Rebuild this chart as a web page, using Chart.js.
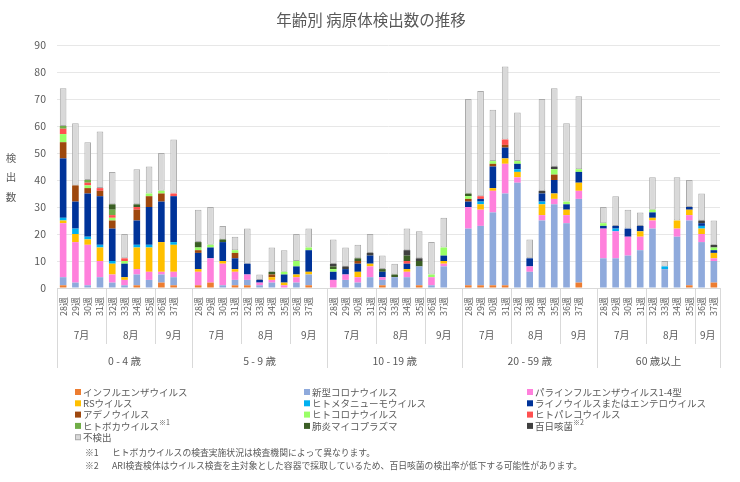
<!DOCTYPE html>
<html lang="ja">
<head>
<meta charset="utf-8">
<title>年齢別 病原体検出数の推移</title>
<script src="https://cdn.jsdelivr.net/npm/chart.js@4.4.1/dist/chart.umd.min.js"></script>
<style>
  html, body { margin: 0; padding: 0; background: #fff; }
  #wrap { position: relative; width: 740px; height: 482px; }
</style>
</head>
<body>
<div id="wrap"><canvas id="pcChart" width="740" height="482"></canvas></div>
<script>
// ─── 年齢別 病原体検出数の推移 — stacked bars, 3-level category axis ─────────

const FONT = '"Noto Sans CJK JP", "Noto Sans", sans-serif';
const INK  = '#595959';

// axis categories
const WEEKS  = ['28週','29週','30週','31週','32週','33週','34週','35週','36週','37週'];
const MONTHS = ['7月','8月','9月'];
const MONTH_SPAN = [4, 4, 2];            // weeks per month
const GROUPS = ['0 - 4 歳','5 - 9 歳','10 - 19 歳','20 - 59 歳','60 歳以上'];
const Y_TICKS = [0,10,20,30,40,50,60,70,80,90];

// series values, 10 weeks per age group:  0-4 | 5-9 | 10-19 | 20-59 | 60+
const FLU     = [1,0,0,0,0,0,1,0,2,1,  1,2,0,1,1,0,0,0,0,1,  0,0,0,0,1,0,0,1,0,0,  1,1,1,1,0,0,0,0,0,2,  0,0,0,0,0,0,0,1,0,2];
const COVID   = [3,2,1,4,2,1,4,3,3,3,  0,0,1,2,2,1,2,0,2,4,  0,3,2,4,2,4,4,7,1,8,  21,22,27,34,39,6,25,31,24,31,  11,11,12,14,22,7,19,24,17,8];
const PARA    = [20,15,15,6,3,2,2,3,1,2,  5,9,8,3,2,1,1,1,2,0,  3,2,2,4,1,0,2,0,3,1,  8,6,8,11,2,2,2,2,3,3,  11,10,7,5,3,0,3,2,3,1];
const RSV     = [1,3,2,5,4,1,8,9,11,10,  1,0,1,1,0,0,1,1,1,1,  0,0,2,1,0,0,1,0,0,1,  0,2,1,2,2,0,4,2,2,3,  0,0,0,2,1,0,3,2,2,2];
const HMPV    = [1,2,1,1,1,0,1,1,0,1,  0,0,0,0,0,0,0,0,0,0,  0,0,0,0,0,0,0,0,0,0,  0,1,0,0,1,0,1,0,0,0,  0,1,0,0,0,1,0,0,1,0];
const RHINO   = [22,10,16,18,12,5,9,14,15,17,  6,4,7,4,4,1,0,3,3,8,  3,2,3,3,2,0,2,0,0,2,  2,1,8,4,2,3,3,5,2,4,  1,1,3,2,2,0,0,1,1,1];
const ADENO   = [6,6,2,2,3,0,4,4,3,0,  1,0,0,2,0,0,1,0,0,0,  0,0,1,0,0,0,0,0,0,0,  1,0,1,1,0,0,0,2,0,0,  0,0,0,0,0,0,0,0,0,0];
const HCOV    = [3,0,1,0,1,1,0,1,1,0,  1,1,0,1,0,0,0,1,2,1,  1,0,0,0,0,0,0,0,1,3,  1,0,1,0,1,0,0,2,1,1,  1,0,0,0,1,0,0,0,0,1];
const PARECHO = [2,0,1,1,1,1,1,0,0,1,  0,0,0,0,0,0,0,0,0,0,  0,0,0,0,0,0,1,0,0,0,  0,1,0,2,0,0,0,0,0,0,  0,0,0,0,0,0,0,0,0,0];
const BOCA    = [1,0,1,0,2,0,0,0,0,0,  0,0,0,0,0,0,0,0,0,0,  0,0,0,0,0,0,0,0,0,0,  0,0,0,0,0,0,0,0,0,0,  0,0,0,0,0,0,0,0,0,0];
const MYCO    = [0,0,0,0,2,0,1,0,0,0,  2,0,1,0,0,0,1,0,0,0,  1,0,1,0,1,1,2,2,0,0,  1,0,0,0,0,0,0,0,0,0,  0,0,0,0,0,0,0,0,0,0];
const PERT    = [0,0,0,0,0,0,0,0,0,0,  0,0,0,0,0,0,0,0,0,0,  1,1,0,1,0,0,2,1,0,0,  0,0,0,0,0,0,1,1,0,0,  0,0,0,0,0,0,0,0,1,1];
const NONE    = [14,23,14,21,12,9,13,10,14,20,  12,14,5,5,13,2,9,8,10,7,  9,7,5,7,5,4,8,10,12,11,  35,39,19,27,18,7,34,29,29,27,  6,11,7,5,12,2,16,10,10,9];

const SERIES = [
  { label: 'インフルエンザウイルス',           data: FLU,     color: '#ED7D31' },
  { label: '新型コロナウイルス',               data: COVID,   color: '#8FAADC' },
  { label: 'パラインフルエンザウイルス1-4型',  data: PARA,    color: '#FF80DC' },
  { label: 'RSウイルス',                       data: RSV,     color: '#FFC000' },
  { label: 'ヒトメタニューモウイルス',         data: HMPV,    color: '#00B0F0' },
  { label: 'ライノウイルスまたはエンテロウイルス', data: RHINO, color: '#003399' },
  { label: 'アデノウイルス',                   data: ADENO,   color: '#9E480E' },
  { label: 'ヒトコロナウイルス',               data: HCOV,    color: '#99FF66' },
  { label: 'ヒトパレコウイルス',               data: PARECHO, color: '#FF5050' },
  { label: 'ヒトボカウイルス', note: '※1',    data: BOCA,    color: '#70AD47' },
  { label: '肺炎マイコプラズマ',               data: MYCO,    color: '#3B5E25' },
  { label: '百日咳菌', note: '※2',            data: PERT,    color: '#404040' },
  { label: '不検出',                           data: NONE,    color: '#D9D9D9' },
];

const NOTES = [
  ['※1', 'ヒトボカウイルスの検査実施状況は検査機関によって異なります。'],
  ['※2', 'ARI検査検体はウイルス検査を主対象とした容器で採取しているため、百日咳菌の検出率が低下する可能性があります。'],
];

// one blank slot after every age group except the last
const SLOTS = GROUPS.flatMap((g, gi) => gi < GROUPS.length - 1 ? [...WEEKS, ''] : WEEKS);
const _slot = arr => GROUPS.flatMap((g, gi) => {
  const part = arr.slice(gi * WEEKS.length, (gi + 1) * WEEKS.length);
  return gi < GROUPS.length - 1 ? [...part, null] : part;
});

// ─── decorations: title, y title, multi-level x axis, legend, notes ─────────
const decor = {
  id: 'decor',
  afterDraw(chart) {
    const { ctx, chartArea: a, scales: { x } } = chart;
    const step = (a.right - a.left) / SLOTS.length;
    const edge = i => x.getPixelForValue(i) - step / 2;
    ctx.save();
    ctx.fillStyle = INK;

    // title
    ctx.font = `15.5px ${FONT}`;
    ctx.textAlign = 'center'; ctx.textBaseline = 'middle';
    ctx.fillText('年齢別 病原体検出数の推移', 371, 20);

    // y-axis title, stacked characters
    ctx.font = `10.5px ${FONT}`;
    ['検', '出', '数'].forEach((c, i) => ctx.fillText(c, 11, 158 + i * 19.5));

    // base line
    ctx.strokeStyle = '#D9D9D9'; ctx.lineWidth = 1;
    ctx.beginPath(); ctx.moveTo(a.left, a.bottom + 0.5); ctx.lineTo(a.right, a.bottom + 0.5); ctx.stroke();

    const vline = (px, y2) => {
      const xx = Math.round(px) + 0.5;
      ctx.beginPath(); ctx.moveTo(xx, a.bottom); ctx.lineTo(xx, y2); ctx.stroke();
    };

    // week labels (rotated)
    ctx.font = `9px ${FONT}`;
    SLOTS.forEach((lab, i) => {
      if (!lab) return;
      ctx.save();
      ctx.translate(x.getPixelForValue(i), a.bottom + 9);
      ctx.rotate(-Math.PI / 2);
      ctx.textAlign = 'right'; ctx.textBaseline = 'middle';
      ctx.fillText(lab, 0, 0);
      ctx.restore();
    });

    // months + groups
    let idx = 0;
    GROUPS.forEach((g, gi) => {
      const gStart = idx;
      MONTHS.forEach((m, mi) => {
        let span = MONTH_SPAN[mi];
        if (mi === MONTHS.length - 1 && gi < GROUPS.length - 1) span += 1;   // blank slot
        const l = edge(idx), r = edge(idx) + span * step;
        ctx.font = `10px ${FONT}`;
        ctx.textAlign = 'center';
        ctx.fillText(m, (l + r) / 2, 335);
        if (mi > 0) vline(l, 344);
        idx += span;
      });
      const gl = edge(gStart), gr = edge(gStart) + (idx - gStart) * step;
      ctx.font = `10.5px ${FONT}`;
      ctx.fillText(g, (gl + gr) / 2, 361);
      vline(gl, 368);
      if (gi === GROUPS.length - 1) vline(gr, 368);
    });

    // legend, 3 columns
    const colX = [78, 307, 530];
    chart.data.datasets.forEach((ds, i) => {
      const cx = colX[i % 3], cy = 392 + Math.floor(i / 3) * 11.3;
      ctx.fillStyle = ds.backgroundColor;
      ctx.fillRect(cx - 3, cy - 3, 6, 6);
      if (i === SERIES.length - 1) { ctx.strokeStyle = '#ABABAB'; ctx.strokeRect(cx - 2.5, cy - 2.5, 5, 5); }
      ctx.fillStyle = INK;
      ctx.font = `9.5px ${FONT}`;
      ctx.textAlign = 'left'; ctx.textBaseline = 'middle';
      ctx.fillText(ds.label, cx + 5, cy);
      const note = SERIES[i].note;
      if (note) {
        const w = ctx.measureText(ds.label).width;
        ctx.font = `7px ${FONT}`;
        ctx.fillText(note, cx + 5 + w, cy - 4);
      }
    });

    // footnotes
    ctx.font = `8.8px ${FONT}`;
    NOTES.forEach(([k, t], i) => {
      ctx.fillText(k, 85, 453 + i * 13);
      ctx.fillText(t, 112, 453 + i * 13);
    });
    ctx.restore();
  }
};

new Chart(document.getElementById('pcChart').getContext('2d'), {
  type: 'bar',
  data: {
    labels: SLOTS,
    datasets: SERIES.map((s, i) => ({
      label: s.label,
      data: _slot(s.data),
      backgroundColor: s.color,
      borderColor: i === SERIES.length - 1 ? '#ABABAB' : s.color,
      borderWidth: i === SERIES.length - 1 ? 1 : 0,
      borderSkipped: false,
      categoryPercentage: 1,
      barPercentage: 0.54,
    })),
  },
  options: {
    responsive: false,
    animation: false,
    layout: { padding: { left: 0, right: 20, top: 45, bottom: 194 } },
    plugins: { legend: { display: false }, tooltip: { enabled: false } },
    scales: {
      x: { stacked: true, display: false },
      y: {
        stacked: true, min: 0, max: 90,
        afterFit: s => { s.width = 57; },
        afterBuildTicks: s => { s.ticks = Y_TICKS.map(v => ({ value: v })); },
        grid: { color: '#E7E7E7', drawTicks: false },
        border: { display: false },
        ticks: { color: INK, padding: 11, font: { family: FONT, size: 10.5 } },
      },
    },
  },
  plugins: [decor],
});
</script>
</body>
</html>
